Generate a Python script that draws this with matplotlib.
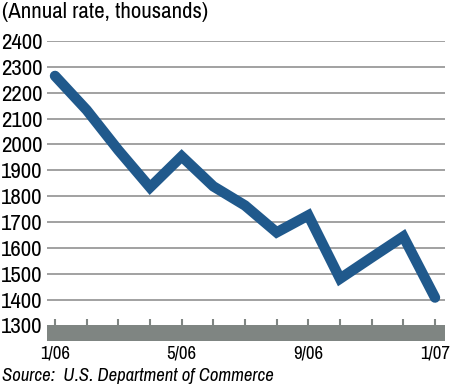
import matplotlib as mpl
mpl.use("Agg")
import matplotlib.pyplot as plt
from matplotlib import font_manager
import numpy as np

months = ["1/06", "2/06", "3/06", "4/06", "5/06", "6/06", "7/06",
          "8/06", "9/06", "10/06", "11/06", "12/06", "1/07"]
starts = [2265, 2133, 1978, 1834, 1954, 1838, 1764, 1660, 1726, 1481, 1563, 1644, 1408]
yticks = list(range(1300, 2500, 100))
shown = ["1/06", "5/06", "9/06", "1/07"]

# the chart uses a condensed sans, take whatever condensed face is installed
names = sorted({f.name for f in font_manager.fontManager.ttflist})
cond = [n for n in names if "Condensed" in n or "Narrow" in n]
plt.rcParams['font.family'] = cond + ['Roboto', 'DejaVu Sans']
plt.rcParams['font.stretch'] = 'condensed'

fig = plt.figure(figsize=(4.5, 3.86), dpi=100)
ax = fig.add_axes([47/450, 1 - 341/386, 398/450, 300/386])

x = np.arange(len(months))
for v in yticks[1:]:
    ax.axhline(v, color="#9a9a9a", lw=1.3, zorder=1)
ax.axhspan(1240, 1300, color="#7f8582", lw=0, zorder=2)
ax.vlines(x, 1300, 1325, color="#7f8582", lw=1.5, zorder=2)
ax.plot(x, starts, color="#20598c", lw=7.5, solid_capstyle="round",
        solid_joinstyle="miter", zorder=3)

ax.set_xlim(-0.253, 12.316)
ax.set_ylim(1240, 2400)
ax.set_yticks(yticks)
ax.set_yticklabels([str(v) for v in yticks], fontsize=16.5)
ax.set_xticks([months.index(m) for m in shown])
ax.set_xticklabels(shown, fontsize=13.5)
ax.tick_params(length=0)
ax.tick_params(axis="y", pad=3)
ax.tick_params(axis="x", pad=3)
for s in ax.spines.values():
    s.set_visible(False)

fig.text(0.004, 0.995, "(Annual rate, thousands)", fontsize=16.5, va="top", ha="left")
fig.text(0.004, 0.006, "Source:  U.S. Department of Commerce", fontsize=13.5,
         style="italic", va="bottom", ha="left")

fig.savefig("out.png", dpi=100)
